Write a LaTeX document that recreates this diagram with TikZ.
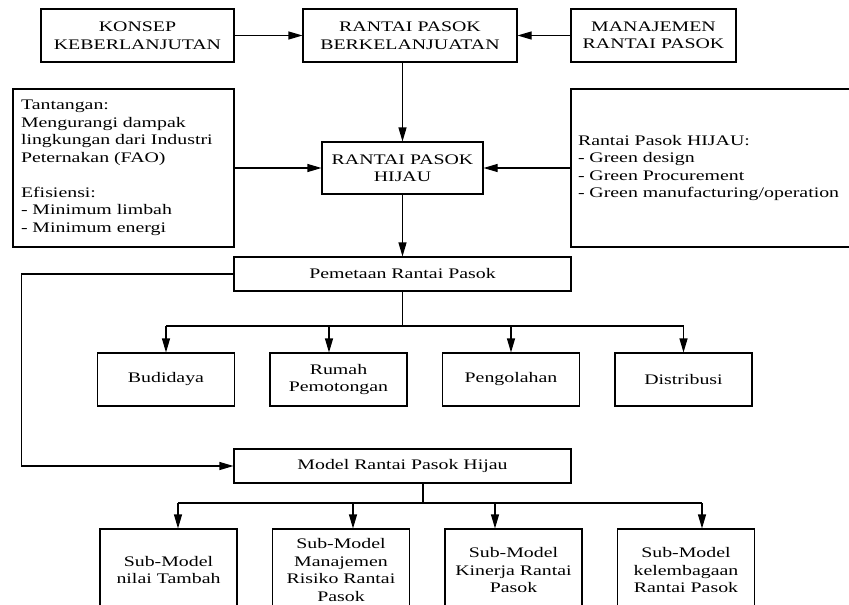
\documentclass[tikz,border=0pt]{standalone}
\usepackage{fontspec}
\setmainfont[FakeStretch=1.36]{Liberation Serif}
\usetikzlibrary{arrows.meta}
\tikzset{
  kotak/.style={draw,align=center,inner sep=0pt,minimum width=137pt,minimum height=53pt},
  ket/.style={draw,align=left,inner sep=0pt,inner xsep=8pt,minimum height=158pt},
  lebar/.style={draw,align=center,inner sep=0pt,minimum width=337pt,minimum height=34pt},
}
\begin{document}
\begin{tikzpicture}[x=1pt,y=-1pt,>={Triangle[length=14pt,width=8pt]},line width=1.1pt,
  every node/.style={font=\fontsize{14.6}{17.5}\selectfont}]
 \useasboundingbox (0,0) rectangle (849,605);
 \clip (0,0) rectangle (849,605);
 % baris atas
 \node[kotak,minimum width=193pt] (konsep) at (137.5,35.5) {KONSEP\\KEBERLANJUTAN};
 \node[kotak,minimum width=214pt] (rpb) at (410,35.5) {RANTAI PASOK\\BERKELANJUATAN};
 \node[kotak,minimum width=165pt] (mrp) at (653.5,35.5) {MANAJEMEN\\RANTAI PASOK};
 \node[kotak,minimum width=161pt,minimum height=52pt] (hijau) at (402.5,168) {RANTAI PASOK\\HIJAU};
 \node[ket,text width=205pt] (tantangan) at (123.5,168) {Tantangan:\\Mengurangi dampak\\lingkungan dari Industri\\Peternakan (FAO)\\[17.5pt]Efisiensi:\\- Minimum limbah\\- Minimum energi};
 \node[ket,inner xsep=7pt,text width=300pt] (rph) at (728,168) {Rantai Pasok HIJAU:\\- Green design\\- Green Procurement\\- Green manufacturing/operation};
 \draw[->] (konsep) -- (rpb);
 \draw[->] (mrp) -- (rpb);
 \draw[->] (hijau.north |- rpb.south) -- (hijau.north);
 \draw[->] (tantangan) -- (hijau);
 \draw[->] (rph) -- (hijau);
 % pemetaan
 \node[lebar] (pemetaan) at (402.5,274) {Pemetaan Rantai Pasok};
 \draw[->] (hijau) -- (pemetaan);
 \node[kotak] (budidaya) at (166,379.5) {Budidaya};
 \node[kotak] (rumah) at (338.5,379.5) {Rumah\\Pemotongan};
 \node[kotak] (pengolahan) at (511,379.5) {Pengolahan};
 \node[kotak] (distribusi) at (683.5,379.5) {Distribusi};
 \coordinate (cab1) at (402.5,326);
 \draw (pemetaan.south) -- (cab1);
 \draw (budidaya.north |- cab1) -- (distribusi.north |- cab1);
 \foreach \n/\dx in {budidaya/0,rumah/-9.5,pengolahan/0,distribusi/0}
   \draw[->] ([xshift=\dx pt]\n.north |- cab1) -- ([xshift=\dx pt]\n.north);
 % model
 \node[lebar] (model) at (402.5,466) {Model Rantai Pasok Hijau};
 \draw[->] (pemetaan.west) -- ++(-212,0) |- (model.west);
 \node[kotak,minimum height=82pt] (sub1) at (168.5,570) {Sub-Model\\nilai Tambah};
 \node[kotak,minimum height=82pt] (sub2) at (341,570) {Sub-Model\\Manajemen\\Risiko Rantai\\Pasok};
 \node[kotak,minimum height=82pt] (sub3) at (513.5,570) {Sub-Model\\Kinerja Rantai\\Pasok};
 \node[kotak,minimum height=82pt] (sub4) at (686,570) {Sub-Model\\kelembagaan\\Rantai Pasok};
 \coordinate (cab2) at (423,503);
 \draw (model.south -| cab2) -- (cab2);
 \draw ([xshift=9.5pt]sub1.north |- cab2) -- ([xshift=16pt]sub4.north |- cab2);
 \foreach \n/\dx in {sub1/9.5,sub2/12,sub3/-18.5,sub4/16}
   \draw[->] ([xshift=\dx pt]\n.north |- cab2) -- ([xshift=\dx pt]\n.north);
\end{tikzpicture}
\end{document}
